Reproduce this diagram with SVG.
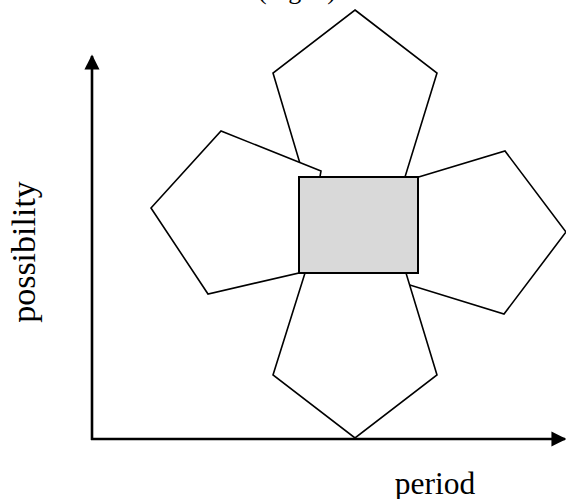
<svg xmlns="http://www.w3.org/2000/svg" width="566" height="499" viewBox="0 0 566 499">
<defs>
<style>
.pent{fill:#ffffff;stroke:#000000;stroke-width:1.6;stroke-linejoin:miter}
.core{fill:#d9d9d9;stroke:#000000;stroke-width:2}
.axis{stroke:#000000;stroke-width:2.6;fill:none}
.lbl{font-family:"Liberation Serif","Times New Roman",serif;fill:#000000}
</style>
<marker id="arr" viewBox="0 0 10 10" refX="9" refY="5" markerWidth="5.8" markerHeight="5.8" markerUnits="strokeWidth" orient="auto">
<path d="M0,0 L10,5 L0,10 Z" fill="#000000"/>
</marker>
</defs>
<rect width="566" height="499" fill="#ffffff"/>
<text class="lbl" x="258" y="-1.5" font-size="26">(Fig. 1).</text>
<g id="pent-top"><polygon class="pent" points="355,10 437,73 405,177 304,177 273,73"/></g>
<g id="pent-right"><polygon class="pent" points="412,179 505,151 566,232 504,314 400,282"/></g>
<g id="pent-left"><polygon class="pent" points="151,208 221,131 321,171 303,272 208,294"/></g>
<g id="pent-bottom"><polygon class="pent" points="305,273 406,273 437,375 355,438 273,375"/></g>
<g id="core"><rect class="core" x="299" y="177" width="119" height="96"/></g>
<g id="connectors">
<line class="axis" x1="92" y1="440" x2="92" y2="56" marker-end="url(#arr)"/>
<line class="axis" x1="91" y1="439" x2="565" y2="439" marker-end="url(#arr)"/>
</g>
<g id="labels">
<text class="lbl" x="435" y="494" font-size="31.5" text-anchor="middle">period</text>
<text class="lbl" transform="translate(35,252) rotate(-90)" font-size="34" text-anchor="middle">possibility</text>
</g>
</svg>
